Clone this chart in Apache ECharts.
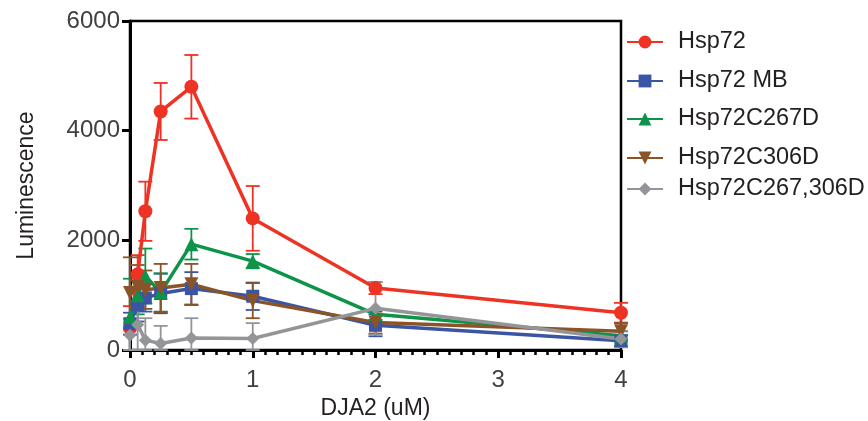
<!DOCTYPE html>
<html>
<head>
<meta charset="utf-8">
<script src="https://cdn.jsdelivr.net/npm/echarts@6/dist/echarts.min.js"></script>
<style>html,body{margin:0;padding:0;background:#fff;}#c{width:868px;height:421px;}</style>
</head>
<body>
<div id="c"></div>
<script>
// ---- data ----
var xVals = [0, 0.0625, 0.125, 0.25, 0.5, 1, 2, 4];
var seriesNames = ['Hsp72', 'Hsp72 MB', 'Hsp72C267D', 'Hsp72C306D', 'Hsp72C267,306D'];
var hsp72     = [400, 1380, 2530, 4350, 4800, 2400, 1130, 680];
var hsp72Err  = [400, 350, 540, 520, 580, 590, 110, 180];
var mb        = [480, 820, 950, 1030, 1120, 980, 450, 170];
var mbErr     = [200, 300, 250, 360, 300, 250, 200, 100];
var c267      = [600, 1000, 1350, 1050, 1930, 1620, 650, 260];
var c267Err   = [700, 350, 500, 350, 280, 130, 100, 80];
var c306      = [1040, 1150, 1100, 1130, 1200, 900, 500, 340];
var c306Err   = [650, 400, 350, 440, 370, 320, 200, 150];
var dbl       = [270, 460, 180, 120, 220, 210, 760, 200];
var dblErr    = [300, 700, 400, 320, 360, 280, 480, 150];
var xTicks = [0, 1, 2, 3, 4];
var yTicks = [0, 2000, 4000, 6000];

var colors = ['#EE3224', '#3B55A5', '#0D9448', '#8B5428', '#939598'];
var symbols = ['circle', 'rect', 'triangle', 'path://M0,0 L10,0 L5,10 Z', 'diamond'];
var symSizes = [14, 13, 14, 14, 13];
var values = [hsp72, mb, c267, c306, dbl];
var errs = [hsp72Err, mbErr, c267Err, c306Err, dblErr];
var legendCenters = [43, 82, 120, 159, 190];
var FONT = 'Liberation Sans, Arial, Helvetica, sans-serif';

var chart = echarts.init(document.getElementById('c'), null, {renderer: 'canvas'});

var series = [];
var legends = [];
values.forEach(function (vals, i) {
  var errData = xVals.map(function (x, k) { return [x, vals[k] - errs[i][k], vals[k] + errs[i][k]]; });
  series.push({
    type: 'custom',
    name: seriesNames[i] + '_err',
    data: errData,
    z: 2,
    silent: true,
    encode: {x: 0, y: [1, 2]},
    renderItem: (function (col) {
      return function (params, api) {
        var x = api.value(0);
        var lo = api.coord([x, Math.max(api.value(1), 0)]);
        var hi = api.coord([x, api.value(2)]);
        var w = 7;
        var st = {stroke: col, lineWidth: 1.8};
        return {
          type: 'group',
          children: [
            {type: 'line', shape: {x1: lo[0], y1: lo[1], x2: hi[0], y2: hi[1]}, style: st},
            {type: 'line', shape: {x1: hi[0] - w, y1: hi[1], x2: hi[0] + w, y2: hi[1]}, style: st},
            {type: 'line', shape: {x1: lo[0] - w, y1: lo[1], x2: lo[0] + w, y2: lo[1]}, style: st}
          ]
        };
      };
    })(colors[i])
  });
  series.push({
    type: 'line',
    name: seriesNames[i],
    data: xVals.map(function (x, k) { return [x, vals[k]]; }),
    symbol: symbols[i],
    symbolSize: symSizes[i],
    showAllSymbol: true,
    z: 3,
    lineStyle: {color: colors[i], width: 3.5},
    itemStyle: {color: colors[i]},
    emphasis: {disabled: true}
  });
  legends.push({
    data: [seriesNames[i]],
    left: 626,
    top: legendCenters[i] - 13,
    orient: 'vertical',
    padding: 0,
    itemWidth: 36,
    itemHeight: 16,
    textStyle: {fontSize: 23.5, color: '#231F20', fontFamily: FONT, padding: [0, 0, 0, 10]}
  });
});

chart.setOption({
  animation: false,
  backgroundColor: '#fff',
  color: colors,
  grid: {left: 130, top: 21, right: 247, bottom: 71, outerBoundsMode: 'none', containLabel: false,
    show: true, borderColor: '#000', borderWidth: 2.5, backgroundColor: 'transparent'},
  legend: legends,
  xAxis: {
    type: 'value', min: xTicks[0], max: xTicks[xTicks.length - 1], interval: 1,
    name: 'DJA2 (uM)', nameLocation: 'middle', nameGap: 46,
    nameTextStyle: {fontSize: 23, color: '#231F20', fontFamily: FONT},
    axisLine: {lineStyle: {color: '#000', width: 3}},
    axisTick: {show: true, length: 8, lineStyle: {color: '#000', width: 3}},
    minorTick: {show: true, splitNumber: 10, length: 5, lineStyle: {color: '#000', width: 2.5}},
    splitLine: {show: false},
    axisLabel: {fontSize: 24, color: '#404040', fontFamily: FONT, margin: 18}
  },
  yAxis: {
    type: 'value', min: yTicks[0], max: yTicks[yTicks.length - 1], interval: 2000,
    name: 'Luminescence', nameLocation: 'middle', nameGap: 92,
    nameTextStyle: {fontSize: 23, color: '#231F20', fontFamily: FONT},
    axisLine: {lineStyle: {color: '#000', width: 3}},
    axisTick: {show: true, length: 8, lineStyle: {color: '#000', width: 3}},
    splitLine: {show: false},
    axisLabel: {fontSize: 24, color: '#404040', fontFamily: FONT, margin: 10,
      formatter: function (v) { return String(v); }}
  },
  series: series
});
</script>
</body>
</html>
